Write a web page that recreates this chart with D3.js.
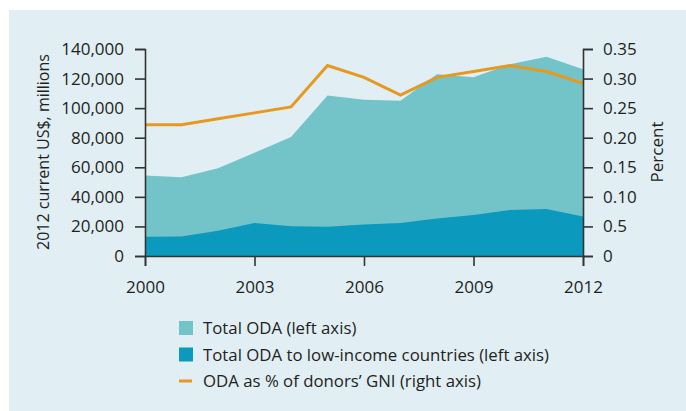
<!DOCTYPE html>
<html>
<head>
<meta charset="utf-8">
<script src="https://cdn.jsdelivr.net/npm/d3@7"></script>
<style>
  html, body { margin: 0; padding: 0; background: #ffffff; }
  svg { display: block; }
  text { font-family: "Open Sans", "Noto Sans", sans-serif; fill: #231f20; }
</style>
</head>
<body>
<svg id="chart" width="686" height="411"></svg>
<script>
// Official development assistance, 2000–2012
const years = [2000, 2001, 2002, 2003, 2004, 2005, 2006, 2007, 2008, 2009, 2010, 2011, 2012];
const totalOda = [54400, 53300, 59400, 69900, 80500, 108600, 105700, 105000, 122900, 120900, 129700, 134700, 126300];
const lowIncomeOda = [13100, 13200, 17000, 22400, 20200, 19700, 21300, 22400, 25400, 27700, 31100, 31800, 26700];
const odaGniPct = [0.222, 0.222, 0.232, 0.242, 0.252, 0.322, 0.302, 0.272, 0.302, 0.312, 0.322, 0.312, 0.292];

const xTicks = [2000, 2003, 2006, 2009, 2012];
const leftTicks = [0, 20000, 40000, 60000, 80000, 100000, 120000, 140000];
const rightTicks = [0, 0.05, 0.10, 0.15, 0.20, 0.25, 0.30, 0.35];
const rightTickLabels = ["0", "0.5", "0.10", "0.15", "0.20", "0.25", "0.30", "0.35"];

const legendItems = [
  { label: "Total ODA (left axis)", kind: "rect", color: "#72c4c8" },
  { label: "Total ODA to low-income countries (left axis)", kind: "rect", color: "#0b99be" },
  { label: "ODA as % of donors\u2019 GNI (right axis)", kind: "line", color: "#e6991f" }
];

const svg = d3.select("#chart");
const W = 686, H = 411;
const axisColor = "#333333";

// panel background
svg.append("rect").attr("x", 9).attr("y", 10).attr("width", W - 9).attr("height", H - 10)
  .attr("fill", "#e1eef4");

const x = d3.scaleLinear().domain([2000, 2012]).range([145, 583]);
const yL = d3.scaleLinear().domain([0, 140000]).range([256, 49]);
const yR = d3.scaleLinear().domain([0, 0.35]).range([256, 49]);

// total ODA area
const areaTotal = d3.area().x((d, i) => x(years[i])).y0(yL(0)).y1(d => yL(d));
svg.append("path").datum(totalOda).attr("d", areaTotal).attr("fill", "#72c4c8");

// low-income countries area
svg.append("path").datum(lowIncomeOda).attr("d", areaTotal).attr("fill", "#0b99be");

// ODA as % of GNI line
const line = d3.line().x((d, i) => x(years[i])).y(d => yR(d));
svg.append("path").datum(odaGniPct).attr("d", line)
  .attr("fill", "none").attr("stroke", "#e6991f").attr("stroke-width", 3)
  .attr("stroke-linejoin", "miter");

function styleAxis(g) {
  g.selectAll("path, line").attr("stroke", axisColor).attr("stroke-width", 1.6);
  g.selectAll("text").attr("fill", "#231f20").attr("font-size", 17)
    .attr("font-family", "'Open Sans', sans-serif");
}

// left axis
svg.append("g").attr("transform", `translate(${x(2000)},0)`)
  .call(d3.axisLeft(yL).tickValues(leftTicks).tickFormat(d3.format(",")).tickSize(10).tickPadding(11))
  .call(styleAxis);

// right axis
svg.append("g").attr("transform", `translate(${x(2012)},0)`)
  .call(d3.axisRight(yR).tickValues(rightTicks).tickFormat((d, i) => rightTickLabels[i]).tickSize(10).tickPadding(10))
  .call(styleAxis);

// bottom axis
svg.append("g").attr("transform", `translate(0,${yL(0)})`)
  .call(d3.axisBottom(x).tickValues(xTicks).tickFormat(d3.format("d")).tickSize(10).tickPadding(15))
  .call(styleAxis);

// axis titles
svg.append("text").attr("transform", `translate(49,152) rotate(-90)`)
  .attr("text-anchor", "middle").attr("font-size", 16).text("2012 current US$, millions");
svg.append("text").attr("transform", `translate(663,152) rotate(-90)`)
  .attr("text-anchor", "middle").attr("font-size", 17).text("Percent");

// legend
const legend = svg.append("g");
legendItems.forEach((item, i) => {
  const cy = 328 + i * 26.5;
  if (item.kind === "rect") {
    legend.append("rect").attr("x", 179).attr("y", cy - 7).attr("width", 14).attr("height", 14)
      .attr("fill", item.color);
  } else {
    legend.append("rect").attr("x", 179).attr("y", cy - 1.5).attr("width", 13).attr("height", 3)
      .attr("fill", item.color);
  }
  legend.append("text").attr("x", 203).attr("y", cy + 6).attr("font-size", 16.8)
    .text(item.label);
});
</script>
</body>
</html>
